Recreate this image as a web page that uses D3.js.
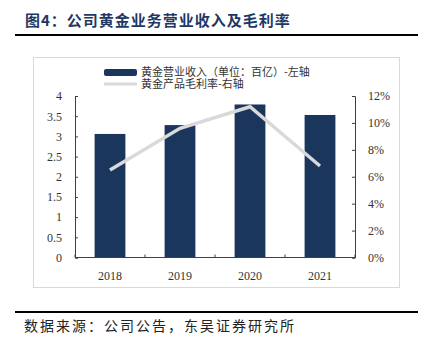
<!DOCTYPE html>
<html><head><meta charset="utf-8">
<script src="https://cdn.jsdelivr.net/npm/d3@7"></script>
<style>
html,body{margin:0;padding:0;background:#fff;}
svg{display:block;}
</style></head>
<body>
<script>
const years = ["2018","2019","2020","2021"];
const revenue = [3.06, 3.28, 3.79, 3.53];
const margin = [0.065, 0.096, 0.112, 0.068];
const leftTicks = [0,0.5,1,1.5,2,2.5,3,3.5,4];
const rightTicks = [0,0.02,0.04,0.06,0.08,0.10,0.12];
const titleText = "图4：公司黄金业务营业收入及毛利率";
const sourceText = "数据来源：公司公告，东吴证券研究所";
const legendLabels = ["黄金营业收入（单位：百亿）-左轴","黄金产品毛利率-右轴"];

const W=424,H=345;
const svg=d3.select("body").append("svg").attr("width",W).attr("height",H);
const cjk="'Noto Sans CJK SC','Noto Sans',sans-serif";
const num="'Liberation Serif','DejaVu Serif',serif";

svg.append("text").attr("x",25).attr("y",26).text(titleText)
  .attr("font-family",cjk).attr("font-weight","bold").attr("font-size",15).attr("letter-spacing",1)
  .attr("fill","#1f3864");
svg.append("line").attr("x1",15).attr("x2",418).attr("y1",35).attr("y2",35).attr("stroke","#000").attr("stroke-width",2);

svg.append("rect").attr("x",33.5).attr("y",57.5).attr("width",366).attr("height",230)
  .attr("fill","#fff").attr("stroke","#d9d9d9");

const L=75,R=355,T=96,B=257.5;
const x=d3.scaleBand().domain(years).range([L,R]).paddingInner(0.56).paddingOuter(0.28);
const yL=d3.scaleLinear().domain([0,4]).range([B,T]);
const yR=d3.scaleLinear().domain([0,0.12]).range([B,T]);

svg.append("g").selectAll("rect").data(years).join("rect")
  .attr("x",d=>x(d)).attr("width",x.bandwidth())
  .attr("y",(d,i)=>yL(revenue[i])).attr("height",(d,i)=>B-yL(revenue[i]))
  .attr("fill","#1b365d");

svg.append("path").datum(years)
  .attr("d",d3.line().x(d=>x(d)+x.bandwidth()/2).y((d,i)=>yR(margin[i])))
  .attr("fill","none").attr("stroke","#d9d9d9").attr("stroke-width",3.5);

const axisColor="#404040";
const gl=svg.append("g").attr("transform",`translate(${L},0)`)
  .call(d3.axisLeft(yL).tickValues(leftTicks).tickSize(-3).tickPadding(13).tickFormat(d3.format("")));
const gr=svg.append("g").attr("transform",`translate(${R},0)`)
  .call(d3.axisRight(yR).tickValues(rightTicks).tickSize(-3).tickPadding(13).tickFormat(d3.format(".0%")));
const gb=svg.append("g").attr("transform",`translate(0,${B})`)
  .call(d3.axisBottom(x).tickSize(0).tickPadding(14));
gb.select(".domain").attr("d",`M${L},0H${R}`);
const step=x.step();
gb.selectAll(".sep").data(d3.range(years.length+1)).join("line")
  .attr("x1",i=>L+step*i).attr("x2",i=>L+step*i).attr("y1",0).attr("y2",-3).attr("stroke",axisColor);

[gl,gr,gb].forEach(g=>{
  g.select(".domain").attr("stroke",axisColor);
  g.selectAll(".tick line").attr("stroke",axisColor);
  g.selectAll("text").attr("font-family",num).attr("font-size",12).attr("fill","#333");
});

// legend
svg.append("rect").attr("x",104).attr("y",69).attr("width",33).attr("height",7).attr("rx",2).attr("fill","#1b365d");
svg.append("line").attr("x1",104).attr("x2",137).attr("y1",84).attr("y2",84).attr("stroke","#d9d9d9").attr("stroke-width",3);
svg.selectAll(".lg").data(legendLabels).join("text").attr("class","lg")
  .attr("x",141).attr("y",(d,i)=>72.5+i*12).attr("dy","0.35em").text(d=>d)
  .attr("font-family",cjk).attr("font-size",11).attr("fill","#333");

// footer
svg.append("line").attr("x1",15).attr("x2",418).attr("y1",312).attr("y2",312).attr("stroke","#000").attr("stroke-width",2);
svg.append("text").attr("x",24).attr("y",331).text(sourceText)
  .attr("font-family",cjk).attr("font-size",14).attr("letter-spacing",2).attr("fill","#222");
</script>
</body></html>
